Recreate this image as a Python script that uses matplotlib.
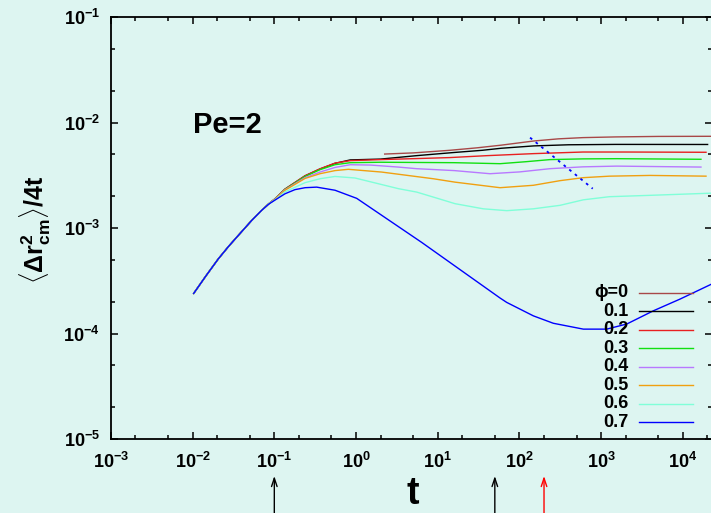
import matplotlib
matplotlib.use("Agg")
import matplotlib.pyplot as plt
from matplotlib.ticker import LogLocator, FuncFormatter, NullFormatter
from matplotlib.lines import Line2D
import numpy as np

plt.rcParams['font.family'] = ['Liberation Sans', 'DejaVu Sans']
plt.rcParams['font.weight'] = 'bold'
plt.rcParams['mathtext.fontset'] = 'custom'
plt.rcParams['mathtext.rm'] = 'Liberation Sans:bold'
plt.rcParams['mathtext.bf'] = 'Liberation Sans:bold'
plt.rcParams['mathtext.it'] = 'Liberation Sans:bold'
plt.rcParams['mathtext.sf'] = 'Liberation Sans:bold'

BG = '#ddf5f1'

# ---- data: <Δr_cm^2>/4t versus t for Pe = 2 ----
# short-time rise common to the runs started at t = 0.01
t_rise = [0.0102, 0.0145, 0.0206, 0.0275, 0.035, 0.0529, 0.07]
y_rise = [2.37e-4, 3.5e-4, 5.09e-4, 6.68e-4, 8.25e-4, 1.18e-3, 1.47e-3]

t_phi0 = [2.2, 5, 14, 30, 60, 150, 300, 600, 1500, 5000, 22700]
y_phi0 = [5.02e-3, 5.15e-3, 5.45e-3, 5.75e-3, 6.1e-3, 6.68e-3, 7.0e-3, 7.19e-3, 7.3e-3, 7.38e-3, 7.4e-3]

t_phi01 = [0.085, 0.102, 0.135, 0.238, 0.362, 0.553, 0.85, 2.0, 5.5, 16, 35, 60, 150, 400, 1500, 20500]
y_phi01 = [1.69e-3, 1.89e-3, 2.33e-3, 3.12e-3, 3.62e-3, 4.10e-3, 4.42e-3, 4.5e-3, 4.85e-3, 5.2e-3, 5.45e-3, 5.7e-3, 6.0e-3, 6.15e-3, 6.2e-3, 6.19e-3]

t_phi02 = [0.085, 0.102, 0.135, 0.238, 0.362, 0.553, 0.85, 2.0, 5.5, 14, 40, 150, 600, 2000, 19600]
y_phi02 = [1.69e-3, 1.89e-3, 2.34e-3, 3.13e-3, 3.64e-3, 4.12e-3, 4.35e-3, 4.45e-3, 4.55e-3, 4.65e-3, 4.85e-3, 5.07e-3, 5.25e-3, 5.25e-3, 5.22e-3]

t_phi03 = [0.085, 0.102, 0.135, 0.238, 0.362, 0.553, 0.85, 2.0, 5.5, 16, 58, 120, 237, 600, 1550, 17000]
y_phi03 = [1.69e-3, 1.88e-3, 2.32e-3, 3.08e-3, 3.57e-3, 3.98e-3, 4.16e-3, 4.2e-3, 4.18e-3, 4.16e-3, 4.07e-3, 4.25e-3, 4.45e-3, 4.52e-3, 4.54e-3, 4.48e-3]

t_phi04 = [0.085, 0.102, 0.135, 0.238, 0.362, 0.553, 0.85, 1.5, 3.3, 5.5, 16, 43.6, 100, 237, 600, 1550, 17000]
y_phi04 = [1.69e-3, 1.88e-3, 2.30e-3, 3.0e-3, 3.39e-3, 3.75e-3, 3.98e-3, 3.95e-3, 3.78e-3, 3.65e-3, 3.5e-3, 3.27e-3, 3.4e-3, 3.65e-3, 3.8e-3, 3.86e-3, 3.78e-3]

t_phi05 = [0.085, 0.102, 0.135, 0.238, 0.362, 0.553, 0.805, 2.06, 8.83, 16.3, 57.9, 148, 314, 606, 1260, 3970, 19600]
y_phi05 = [1.69e-3, 1.87e-3, 2.28e-3, 2.95e-3, 3.27e-3, 3.5e-3, 3.6e-3, 3.39e-3, 2.93e-3, 2.72e-3, 2.41e-3, 2.54e-3, 2.81e-3, 3.0e-3, 3.1e-3, 3.15e-3, 3.10e-3]

t_phi06 = [0.085, 0.102, 0.135, 0.238, 0.362, 0.553, 0.97, 3.3, 5.53, 10.4, 16.3, 36.1, 70, 148, 314, 606, 1260, 3970, 22700]
y_phi06 = [1.69e-3, 1.85e-3, 2.2e-3, 2.69e-3, 2.93e-3, 3.08e-3, 2.98e-3, 2.36e-3, 2.19e-3, 1.89e-3, 1.70e-3, 1.52e-3, 1.46e-3, 1.52e-3, 1.64e-3, 1.85e-3, 1.98e-3, 2.04e-3, 2.14e-3]

t_phi07 = [0.085, 0.102, 0.135, 0.179, 0.238, 0.33, 0.553, 1.02, 6.37, 57.9, 70, 148, 260, 606, 1170, 2060, 4350, 9250, 22700]
y_phi07 = [1.68e-3, 1.84e-3, 2.11e-3, 2.31e-3, 2.41e-3, 2.44e-3, 2.28e-3, 1.91e-3, 7.3e-4, 2.17e-4, 1.97e-4, 1.47e-4, 1.25e-4, 1.10e-4, 1.10e-4, 1.23e-4, 1.64e-4, 2.12e-4, 2.95e-4]

# power-law guide
t_guide = [135, 789]
y_guide = [7.19e-3, 2.36e-3]

labels = ['\u03d5=0', '0.1', '0.2', '0.3', '0.4', '0.5', '0.6', '0.7']
colors = ['#a84848', '#000000', '#e82020', '#10e010', '#b878ff', '#f0a010', '#80ffd8', '#0000ff']

# arrows marking characteristic times
t_marks_black = [0.1, 50]
t_marks_red = [200]

series = [
    (t_phi0, y_phi0, False),
    (t_phi01, y_phi01, True),
    (t_phi02, y_phi02, True),
    (t_phi03, y_phi03, True),
    (t_phi04, y_phi04, True),
    (t_phi05, y_phi05, True),
    (t_phi06, y_phi06, True),
    (t_phi07, y_phi07, True),
]

W, H = 711, 513
fig = plt.figure(figsize=(W / 100, H / 100), dpi=100, facecolor=BG)
ax_left, ax_right, ax_top, ax_bot = 110.9, 712.0, 17.0, 439.0
ax = fig.add_axes([ax_left / W, 1 - ax_bot / H, (ax_right - ax_left) / W, (ax_bot - ax_top) / H])
ax.set_facecolor(BG)
ax.set_xscale('log')
ax.set_yscale('log')
ax.set_xlim(1e-3, 10 ** 4.357)
ax.set_ylim(1e-5, 1e-1)

# series in order of phi, the densest one drawn last
for (ts, ys, with_rise), c in zip(series, colors):
    if with_rise:
        tt = list(t_rise) + list(ts)
        yy = list(y_rise) + list(ys)
    else:
        tt, yy = ts, ys
    ax.plot(tt, yy, color=c, lw=1.0, solid_capstyle='butt')

ax.plot(t_guide, y_guide, color='#0000ff', lw=1.3, linestyle=(0, (1.5, 2.5)))

for s in ax.spines.values():
    s.set_linewidth(1.3)

ax.xaxis.set_major_locator(LogLocator(base=10, numticks=20))
ax.xaxis.set_minor_locator(LogLocator(base=10, subs=(2, 5), numticks=20))
ax.yaxis.set_major_locator(LogLocator(base=10, numticks=20))
ax.yaxis.set_minor_locator(LogLocator(base=10, subs=(2, 5), numticks=20))
fmt = FuncFormatter(lambda v, p: r'$\mathbf{10^{%d}}$' % int(round(np.log10(v))))
ax.xaxis.set_major_formatter(fmt)
ax.yaxis.set_major_formatter(fmt)
ax.xaxis.set_minor_formatter(NullFormatter())
ax.yaxis.set_minor_formatter(NullFormatter())
ax.tick_params(which='both', direction='in', top=True, right=True, width=1.1)
ax.tick_params(which='major', length=5, labelsize=13)
ax.tick_params(which='minor', length=3)
ax.tick_params(axis='x', which='major', pad=9)
ax.tick_params(axis='y', which='major', pad=8)

# axis titles and annotation
fig.text(35 / W, 1 - 230 / H,
         r'$\langle\Delta\mathbf{r}^{\mathbf{2}}_{\mathbf{cm}}\rangle\mathbf{/4t}$',
         rotation=90, ha='center', va='center', fontsize=18)
fig.text(413 / W, 1 - 494 / H, 't', ha='center', va='center', fontsize=27, fontweight='bold')
fig.text(193 / W, 1 - 133 / H, 'Pe=2', ha='left', va='baseline', fontsize=21, fontweight='bold')

# legend: labels right aligned, line samples to the right
row0, drow = 292.7, 18.5
for i, (lab, c) in enumerate(zip(labels, colors)):
    yp = 1 - (row0 + i * drow) / H
    fig.text(628 / W, yp, lab, ha='right', va='center', fontsize=13, fontweight='bold')
    fig.add_artist(Line2D([639 / W, 693 / W], [yp, yp], color=c, lw=1.0,
                          transform=fig.transFigure))

# arrows below the time axis
xt = ax.get_xaxis_transform()
tip = (ax_bot - 476) / (ax_bot - ax_top)
tail = (ax_bot - 520) / (ax_bot - ax_top)
for tm in t_marks_black:
    ax.annotate('', xy=(tm, tip), xytext=(tm, tail), xycoords=xt, textcoords=xt,
                annotation_clip=False,
                arrowprops=dict(arrowstyle='->,head_length=0.6,head_width=0.2', color='black', lw=1.0,
                                shrinkA=0, shrinkB=0))
for tm in t_marks_red:
    ax.annotate('', xy=(tm, tip), xytext=(tm, tail), xycoords=xt, textcoords=xt,
                annotation_clip=False,
                arrowprops=dict(arrowstyle='->,head_length=0.6,head_width=0.2', color='red', lw=1.0,
                                shrinkA=0, shrinkB=0))

fig.savefig('out.png', dpi=100, facecolor=BG)
